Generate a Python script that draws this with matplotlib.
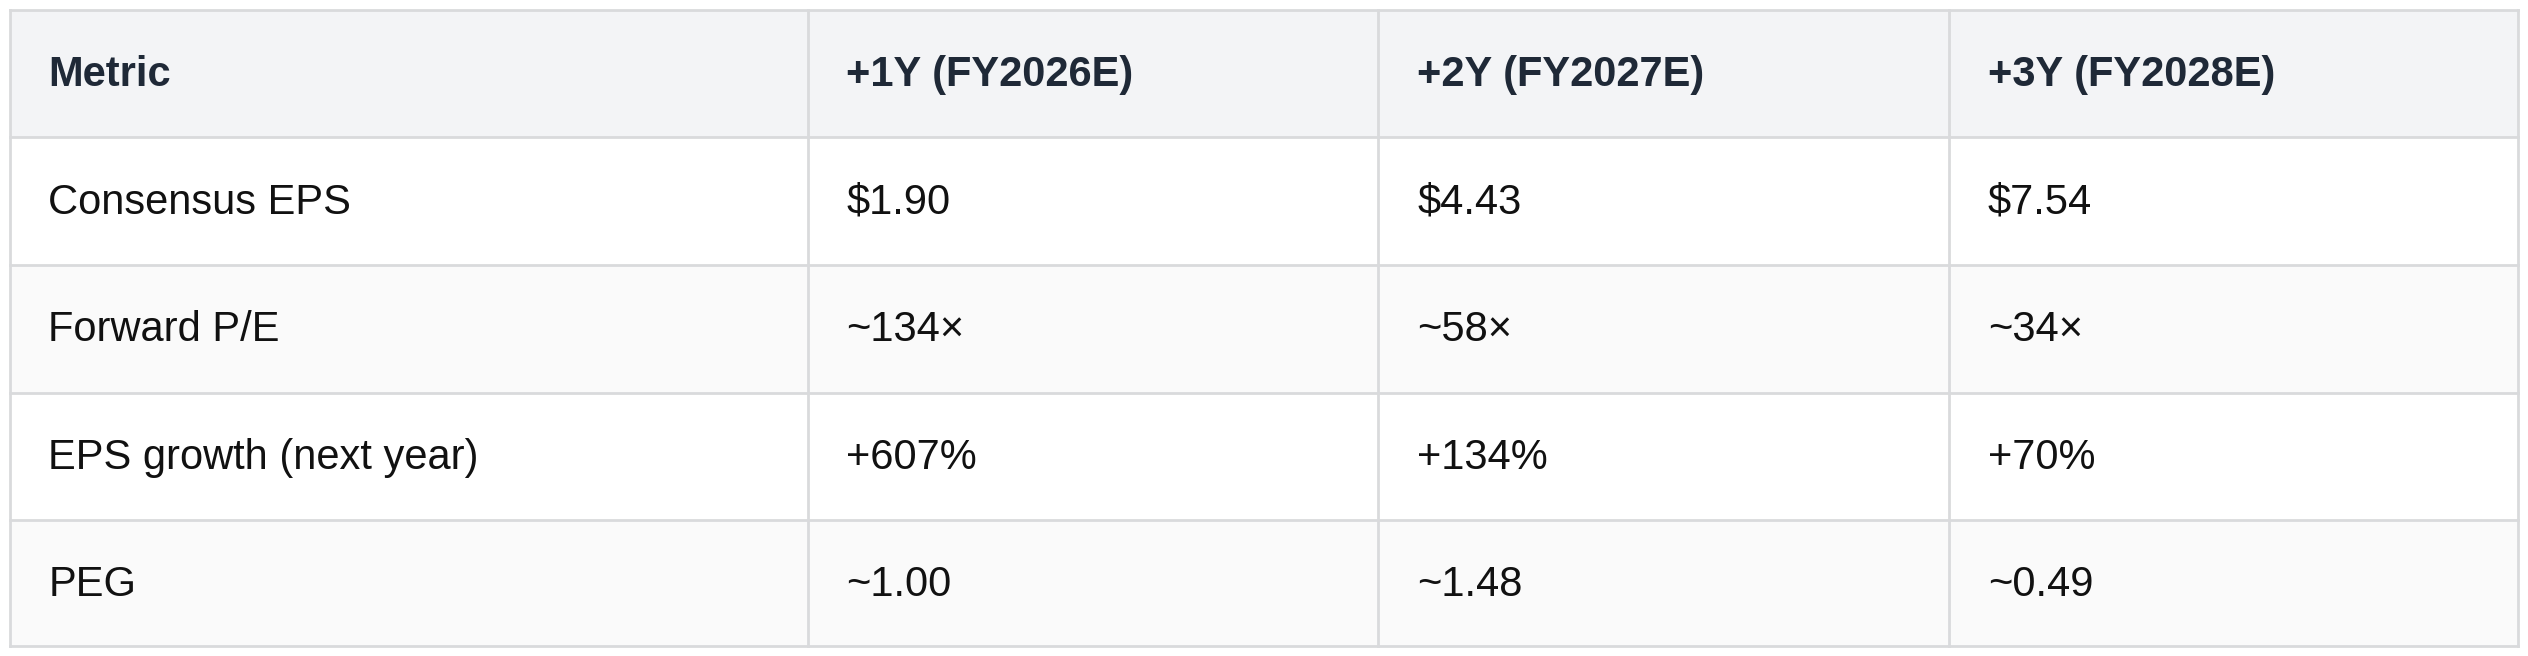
import matplotlib
matplotlib.use("Agg")
import matplotlib.pyplot as plt
from matplotlib.patches import Rectangle

header = ["Metric", "+1Y (FY2026E)", "+2Y (FY2027E)", "+3Y (FY2028E)"]
metrics = ["Consensus EPS", "Forward P/E", "EPS growth (next year)", "PEG"]
y1 = ["$1.90", "~134×", "+607%", "~1.00"]
y2 = ["$4.43", "~58×", "+134%", "~0.49"]
y3 = ["$7.54", "~34×", "+70%", "~0.49"]
y2[3] = "~1.48"

rows = [header] + [[m, a, b, c] for m, a, b, c in zip(metrics, y1, y2, y3)]

fig = plt.figure(figsize=(25.28, 6.56), dpi=100)
ax = fig.add_axes([0, 0, 1, 1])
ax.set_xlim(0, 1568)
ax.set_ylim(406, 0)
ax.axis("off")

cols = [6, 501, 855, 1209, 1562]
ys = [6, 85, 164, 243, 322, 400]
line = "#d9dadc"

for r in range(5):
    if r == 0:
        bg = "#f3f4f6"
    elif r % 2 == 0:
        bg = "#fafafa"
    else:
        bg = "#ffffff"
    ax.add_patch(Rectangle((cols[0], ys[r]), cols[-1] - cols[0], ys[r + 1] - ys[r],
                           facecolor=bg, edgecolor="none", zorder=0))
    for c in range(4):
        ax.text(cols[c] + 24, (ys[r] + ys[r + 1]) / 2 + 1, rows[r][c],
                fontsize=30, family=["Liberation Sans", "DejaVu Sans"],
                fontweight="bold" if r == 0 else "normal",
                color="#1f2937" if r == 0 else "#111111",
                va="center", ha="left")

for y in ys:
    ax.plot([cols[0], cols[-1]], [y, y], color=line, lw=2, zorder=2)
for x in cols:
    ax.plot([x, x], [ys[0], ys[-1]], color=line, lw=2, zorder=2)

fig.savefig("out.png", dpi=100)
